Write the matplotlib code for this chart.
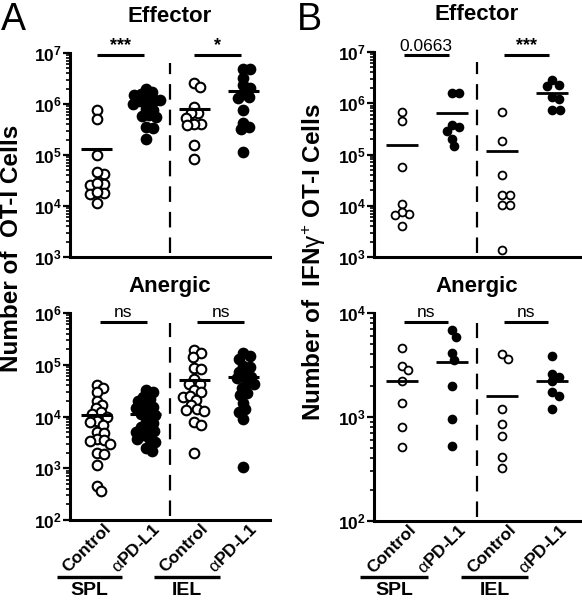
import numpy as np
import matplotlib
matplotlib.use('Agg')
import matplotlib.pyplot as plt
from matplotlib.ticker import LogLocator, FuncFormatter, NullFormatter
import matplotlib.transforms as mtransforms

plt.rcParams['font.family'] = ['Liberation Sans', 'DejaVu Sans']
plt.rcParams['mathtext.fontset'] = 'custom'
plt.rcParams['mathtext.rm'] = 'Liberation Sans'
plt.rcParams['mathtext.bf'] = 'Liberation Sans:bold'
plt.rcParams['mathtext.it'] = 'Liberation Sans:italic'

# ---------------- data ----------------
group_labels = ['Control', r'$\mathrm{\alpha}$PD-L1', 'Control', r'$\mathrm{\alpha}$PD-L1']
tissue_labels = ['SPL', 'IEL']

# Panel A, Effector: number of OT-I cells
a_eff_spl_ctrl = [7.6e5, 5.0e5, 1.0e5, 4.3e4, 4.6e4, 2.7e4, 2.6e4, 2.8e4, 1.8e4, 1.7e4, 1.9e4, 1.17e4]
a_eff_spl_pd = [2.0e6, 1.7e6, 1.6e6, 1.5e6, 1.3e6, 1.2e6, 1.25e6, 1.15e6, 1.0e6, 8.0e5, 7.8e5,
                5.8e5, 5.6e5, 6.0e5, 3.5e5, 3.4e5, 2.1e5]
a_eff_iel_ctrl = [2.6e6, 2.15e6, 8.9e5, 6.8e5, 6.6e5, 5.4e5, 4.0e5, 4.1e5, 3.9e5, 1.6e5, 8.5e4]
a_eff_iel_pd = [4.9e6, 4.8e6, 3.3e6, 2.4e6, 2.1e6, 1.6e6, 1.3e6, 1.35e6, 7.6e5, 4.3e5, 3.5e5, 3.2e5, 1.17e5]

# Panel A, Anergic
a_an_spl_ctrl = [4.1e4, 3.5e4, 3.0e4, 2.0e4, 1.65e4, 1.45e4, 1.2e4, 1.1e4, 1.0e4, 8.3e3, 7.9e3, 6.9e3,
                 5.0e3, 4.8e3, 3.6e3, 3.5e3, 3.4e3, 3.0e3, 2.0e3, 1.9e3, 1.15e3, 4.6e2, 3.6e2]
a_an_spl_pd = [3.2e4, 3.0e4, 2.4e4, 2.2e4, 1.95e4, 1.55e4, 1.5e4, 1.45e4, 1.15e4, 1.1e4, 1.05e4, 7.9e3,
               7.4e3, 6.3e3, 5.5e3, 5.2e3, 5.0e3, 4.3e3, 3.8e3, 3.6e3, 3.2e3, 2.5e3, 2.2e3]
a_an_iel_ctrl = [1.9e5, 1.66e5, 1.4e5, 8.5e4, 8.2e4, 5.2e4, 4.3e4, 4.2e4, 3.2e4, 3.0e4, 2.4e4, 2.5e4,
                 2.1e4, 1.66e4, 1.4e4, 1.35e4, 1.3e4, 7.9e3, 6.9e3, 1.95e3]
a_an_iel_pd = [1.66e5, 1.45e5, 1.3e5, 9.5e4, 8.9e4, 7.4e4, 6.0e4, 5.8e4, 5.5e4, 4.5e4, 4.3e4, 3.5e4,
               2.8e4, 2.6e4, 1.85e4, 1.37e4, 1.23e4, 9.0e3, 1.07e3]

# Panel B, Effector: number of IFNg+ OT-I cells
b_eff_spl_ctrl = [6.9e5, 4.5e5, 5.8e4, 1.07e4, 6.9e3, 7.4e3, 6.5e3, 4.1e3]
b_eff_spl_pd = [1.55e6, 1.6e6, 3.5e5, 2.9e5, 3.8e5, 2.0e5, 1.45e5]
b_eff_iel_ctrl = [6.7e5, 1.8e5, 4.0e4, 1.6e4, 1.6e4, 1.05e4, 1.05e4, 1.4e3]
b_eff_iel_pd = [2.8e6, 2.2e6, 2.3e6, 1.2e6, 1.35e6, 7.4e5, 7.4e5]

# Panel B, Anergic
b_an_spl_ctrl = [4.6e3, 3.1e3, 2.8e3, 2.2e3, 1.35e3, 8.0e2, 5.2e2]
b_an_spl_pd = [6.8e3, 5.9e3, 4.1e3, 3.5e3, 2.0e3, 9.5e2, 5.3e2]
b_an_iel_ctrl = [4.0e3, 3.6e3, 1.2e3, 8.5e2, 6.5e2, 4.1e2, 3.2e2]
b_an_iel_pd = [3.9e3, 2.6e3, 2.4e3, 2.2e3, 1.75e3, 1.6e3, 1.2e3]

sig_a_eff = ['***', '*']
sig_a_an = ['ns', 'ns']
sig_b_eff = ['0.0663', '***']
sig_b_an = ['ns', 'ns']

# ---------------- figure ----------------
W, H = 582, 600
fig = plt.figure(figsize=(W / 100, H / 100), dpi=100)


def frac_axes(l, t, r, b):
    return fig.add_axes([l / W, 1 - b / H, (r - l) / W, (b - t) / H])


def sup_fmt(v, pos):
    e = int(round(np.log10(v)))
    return r'$\mathbf{10^{%d}}$' % e


def swarm_x(ax, xc, vals, d):
    trans = ax.transData
    pts = trans.transform(np.column_stack([np.full(len(vals), float(xc)), np.asarray(vals, float)]))
    order = np.argsort(-pts[:, 1])
    placed = []
    xs = np.zeros(len(vals))
    for i in order:
        y = pts[i, 1]
        best = None
        k = 0
        while best is None:
            for s in ([0] if k == 0 else [1, -1]):
                off = s * k * 0.5
                if all((off - px) ** 2 + (y - py) ** 2 >= d * d for px, py in placed):
                    best = off
                    break
            k += 1
        placed.append((best, y))
        xs[i] = pts[i, 0] + best
    inv = trans.inverted()
    return inv.transform(np.column_stack([xs, pts[:, 1]]))[:, 0]


def panel(ax, data, ylim, sigs, sig_y, sig_span, msize, lw_mark, mean_lw, pack):
    ax.set_yscale('log')
    ax.set_ylim(*ylim)
    ax.set_xlim(-0.55, 3.55)
    for s in ['top', 'right']:
        ax.spines[s].set_visible(False)
    for s in ['left', 'bottom']:
        ax.spines[s].set_linewidth(2.2)
    ax.yaxis.set_major_locator(LogLocator(base=10, numticks=10))
    ax.yaxis.set_minor_locator(LogLocator(base=10, subs=np.arange(2, 10), numticks=10))
    ax.yaxis.set_major_formatter(FuncFormatter(sup_fmt))
    ax.yaxis.set_minor_formatter(NullFormatter())
    ax.tick_params(axis='y', which='major', length=5, width=1.6, pad=1, labelsize=12.5)
    ax.tick_params(axis='y', which='minor', length=3, width=1.2)
    ax.set_xticks([])
    d_px = np.sqrt(msize) * 100 / 72
    for i, vals in enumerate(data):
        xs = swarm_x(ax, i, vals, d_px * pack)
        filled = (i % 2 == 1)
        ax.scatter(xs, vals, s=msize, facecolor='black' if filled else 'white',
                   edgecolor='black', linewidth=lw_mark, zorder=3, clip_on=False)
        m = np.mean(vals)
        ax.plot([i - 0.32, i + 0.32], [m, m], color='black', lw=mean_lw, zorder=4,
                solid_capstyle='butt')
    # dashed separator
    ax.axvline(1.5, ymin=0.02, ymax=0.95, color='black', lw=1.6, dashes=(7, 4.5))
    # significance bars
    tr = mtransforms.blended_transform_factory(ax.transData, ax.transAxes)
    for g, txt in enumerate(sigs):
        x0 = 2 * g + sig_span[0]
        x1 = 2 * g + sig_span[1]
        ax.plot([x0, x1], [sig_y, sig_y], transform=tr, color='black', lw=2.2, clip_on=False,
                solid_capstyle='butt')
        bold = txt.startswith('*')
        ax.annotate(txt, xy=((x0 + x1) / 2, sig_y), xycoords=tr, xytext=(0, 1),
                    textcoords='offset points', ha='center', va='bottom',
                    fontsize=13 if bold else 12.5, fontweight='bold' if bold else 'normal',
                    annotation_clip=False)


def xlabels(ax):
    for i, lab in enumerate(group_labels):
        ax.annotate(lab, xy=(i, 0), xycoords=mtransforms.blended_transform_factory(ax.transData, ax.transAxes),
                    xytext=(4.5, -0.5), textcoords='offset points', rotation=45, ha='right', va='top',
                    rotation_mode='anchor', fontsize=12.5, fontweight='bold', annotation_clip=False)
    tr = mtransforms.blended_transform_factory(ax.transData, fig.transFigure)
    for g, lab in enumerate(tissue_labels):
        x0, x1 = 2 * g - 0.82, 2 * g + 0.52
        ax.plot([x0, x1], [1 - 577 / H, 1 - 577 / H], transform=tr, color='black', lw=2.4,
                clip_on=False, solid_capstyle='butt')
        ax.text((x0 + x1) / 2, 1 - 582 / H, lab, transform=tr, ha='center', va='top',
                fontsize=14, fontweight='bold', clip_on=False)


axA1 = frac_axes(70, 53, 270, 257)
axA2 = frac_axes(70, 313, 270, 520)
axB1 = frac_axes(374, 52, 580, 257)
axB2 = frac_axes(374, 313, 580, 521)

panel(axA1, [a_eff_spl_ctrl, a_eff_spl_pd, a_eff_iel_ctrl, a_eff_iel_pd], (1e3, 1e7),
      sig_a_eff, 0.99, (0.0, 0.96), 48, 1.5, 2.2, 0.72)
panel(axA2, [a_an_spl_ctrl, a_an_spl_pd, a_an_iel_ctrl, a_an_iel_pd], (1e2, 1e6),
      sig_a_an, 0.958, (0.06, 1.02), 48, 1.5, 2.2, 0.72)
panel(axB1, [b_eff_spl_ctrl, b_eff_spl_pd, b_eff_iel_ctrl, b_eff_iel_pd], (1e3, 1e7),
      sig_b_eff, 0.985, (0.04, 0.94), 32, 1.3, 2.0, 0.95)
panel(axB2, [b_an_spl_ctrl, b_an_spl_pd, b_an_iel_ctrl, b_an_iel_pd], (1e2, 1e4),
      sig_b_an, 0.958, (0.04, 0.92), 32, 1.3, 2.0, 0.95)

xlabels(axA2)
xlabels(axB2)

# panel titles
for xc, yc, t in [(170, 16, 'Effector'), (170, 287, 'Anergic'),
                  (477, 15, 'Effector'), (477, 287, 'Anergic')]:
    fig.text(xc / W, 1 - yc / H, t, ha='center', va='center', fontsize=16, fontweight='bold')

fig.text(12 / W, 1 - 248 / H, 'Number of  OT-I Cells', rotation=90, ha='center', va='center',
         fontsize=17.5, fontweight='bold')
fig.text(314 / W, 1 - 262 / H, r'Number of  IFN$\mathrm{\gamma}^{+}$ OT-I Cells', rotation=90,
         ha='center', va='center', fontsize=17.5, fontweight='bold')
fig.text(1 / W, 1 - 2 / H, 'A', ha='left', va='top', fontsize=27)
fig.text(297 / W, 1 - 2 / H, 'B', ha='left', va='top', fontsize=27)

fig.savefig('out.png', dpi=100)
